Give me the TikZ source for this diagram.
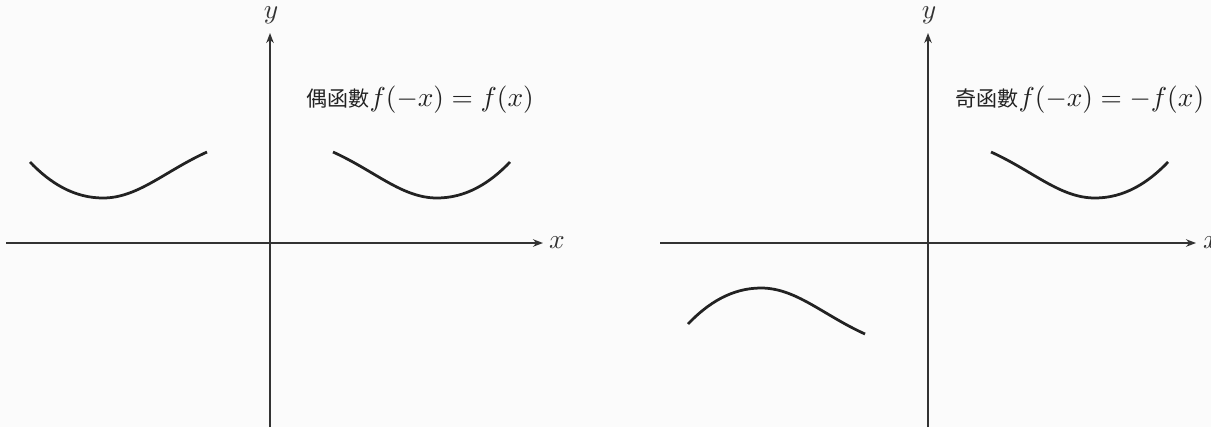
\documentclass[tikz,border=0pt]{standalone}
\usepackage{amsmath}
\usepackage{fontspec}
\usepackage{xcolor}
\usepackage{tikz}
\usetikzlibrary{arrows.meta,positioning,calc}
\newfontfamily\cjkfont[Scale=0.8]{Noto Sans CJK TC}
\definecolor{fnInk}{HTML}{222222}
\definecolor{fnAxis}{HTML}{333333}
\definecolor{fnPaper}{HTML}{FBFBFB}
\newcommand\wavepath{(63,-91) .. controls (105,-72) and (132,-45) .. (167,-45) .. controls (196,-45) and (220,-60) .. (240,-81)}

\begin{document}
\begin{tikzpicture}[
  x=.4pt,y=-.4pt,
  axis/.style={draw=fnAxis,line width=.7pt,-{Stealth[length=4pt,width=3pt]}},
  curve/.style={draw=fnInk,line width=1.1pt},
  axlab/.style={font=\fontsize{10.5}{12}\selectfont,color=fnAxis},
  eqlab/.style={font=\fontsize{10.5}{12}\selectfont,color=fnInk,anchor=west,inner sep=0pt}
]
  \useasboundingbox[fill=fnPaper] (0,0) rectangle (1211,427);
  % even function
  \coordinate (Lw) at (6,243);
  \coordinate (Le) at (543,243);
  \coordinate (Ls) at (270,427);
  \coordinate (Ln) at (270,33);
  \draw[axis] (Lw) -- (Le);
  \draw[axis] (Ls) -- (Ln);
  \node[axlab] (Lx) at (557,243) {$x$};
  \node[axlab] (Ly) at (271,15) {$y$};
  \node[eqlab] (Leq) at (306,100) {{\cjkfont 偶函數}$f(-x)=f(x)$};
  \begin{scope}[shift={(270,243)}]
    \draw[curve] \wavepath;
    \draw[curve,xscale=-1] \wavepath;
  \end{scope}
  % odd function
  \coordinate (Rw) at (660,243);
  \coordinate (Re) at (1196,243);
  \coordinate (Rs) at (928,427);
  \coordinate (Rn) at (928,33);
  \draw[axis] (Rw) -- (Re);
  \draw[axis] (Rs) -- (Rn);
  \node[axlab] (Rx) at (1211,243) {$x$};
  \node[axlab] (Ry) at (929,15) {$y$};
  \node[eqlab] (Req) at (955,100) {{\cjkfont 奇函數}$f(-x)=-f(x)$};
  \begin{scope}[shift={(928,243)}]
    \draw[curve] \wavepath;
    \draw[curve,scale=-1] \wavepath;
  \end{scope}
\end{tikzpicture}
\end{document}
